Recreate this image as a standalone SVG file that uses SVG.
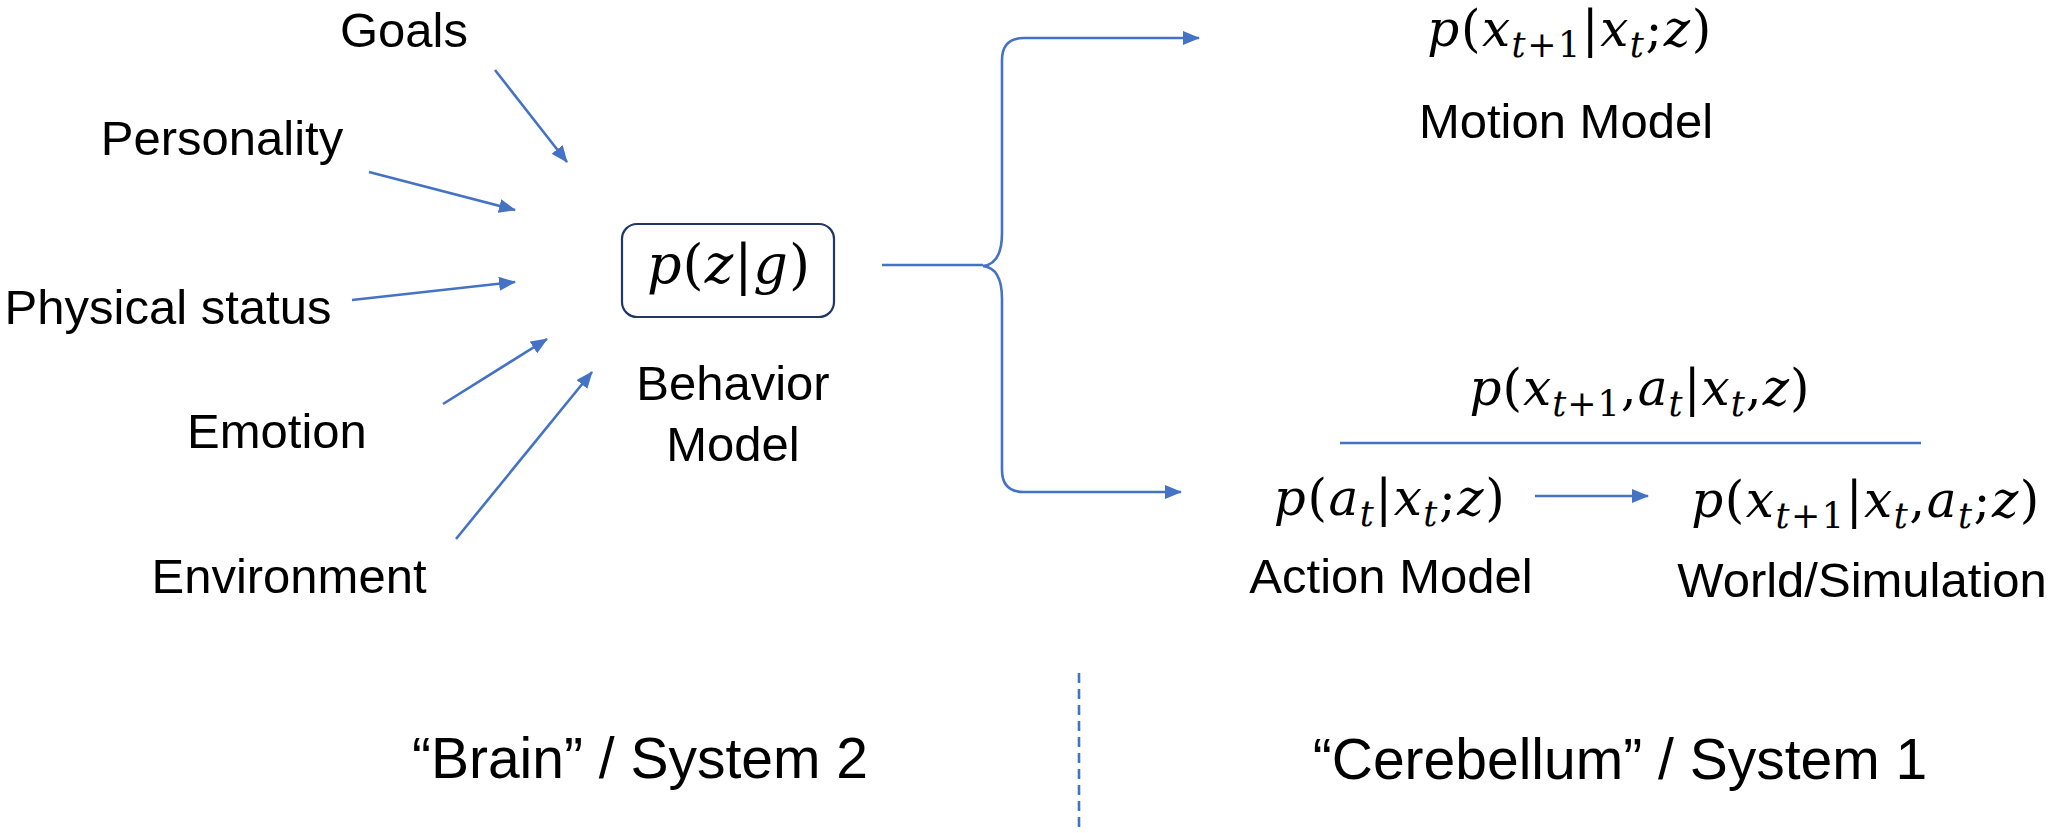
<svg xmlns="http://www.w3.org/2000/svg" width="2070" height="833" viewBox="0 0 2070 833">
  <style>
    .lbl { font-family: "Liberation Sans", Arial, sans-serif; font-size: 49px; fill: #000; text-anchor: middle; }
    .big { font-family: "Liberation Sans", Arial, sans-serif; font-size: 57px; fill: #000; text-anchor: middle; }
    .m { font-family: "DejaVu Serif", "Liberation Serif", serif; font-style: italic; font-size: 50px; letter-spacing: 1.5px; fill: #000; text-anchor: middle; }
    .u { font-style: normal; }
    .s { font-size: 35px; }
    .wire { fill: none; stroke: #4472C4; stroke-width: 2.6; }
  </style>
  <defs>
    <marker id="head" markerUnits="userSpaceOnUse" markerWidth="18" markerHeight="14" refX="16" refY="7" orient="auto">
      <path d="M0,0 L17,7 L0,14 Z" fill="#4472C4"/>
    </marker>
  </defs>

  <rect width="2070" height="833" fill="#fff"/>

  <!-- input factors -->
  <g id="goals"><text class="lbl" x="404" y="47">Goals</text></g>
  <g id="personality"><text class="lbl" x="222" y="155">Personality</text></g>
  <g id="physical-status"><text class="lbl" x="168" y="324">Physical status</text></g>
  <g id="emotion"><text class="lbl" x="277" y="448">Emotion</text></g>
  <g id="environment"><text class="lbl" x="289" y="593">Environment</text></g>

  <!-- behavior model -->
  <g id="behavior-model">
    <rect x="622" y="224" width="212" height="93" rx="15" fill="#fff" stroke="#1F3864" stroke-width="2.2"/>
    <text class="m" x="729" y="283" style="font-size:54px;letter-spacing:1px">p<tspan class="u">(</tspan>z<tspan class="u">|</tspan>g<tspan class="u">)</tspan></text>
    <text class="lbl" x="733" y="400">Behavior</text>
    <text class="lbl" x="733" y="461">Model</text>
  </g>

  <!-- motion model -->
  <g id="motion-model">
    <text class="m" x="1570" y="46">p<tspan class="u">(</tspan>x<tspan class="s" dy="11">t</tspan><tspan class="s u">+1</tspan><tspan class="u" dy="-11">|</tspan>x<tspan class="s" dy="11">t</tspan><tspan class="u" dy="-11">;</tspan>z<tspan class="u">)</tspan></text>
    <text class="lbl" x="1566" y="138">Motion Model</text>
  </g>

  <!-- joint distribution over the factored pair -->
  <g id="joint">
    <text class="m" x="1640" y="405" style="letter-spacing:1px">p<tspan class="u">(</tspan>x<tspan class="s" dy="11">t</tspan><tspan class="s u">+1</tspan><tspan class="u" dy="-11">,</tspan>a<tspan class="s" dy="11">t</tspan><tspan class="u" dy="-11">|</tspan>x<tspan class="s" dy="11">t</tspan><tspan class="u" dy="-11">,</tspan>z<tspan class="u">)</tspan></text>
    <line x1="1340" y1="443" x2="1921" y2="443" stroke="#4472C4" stroke-width="2.6"/>
  </g>

  <!-- action model -->
  <g id="action-model">
    <text class="m" x="1390" y="515">p<tspan class="u">(</tspan>a<tspan class="s" dy="11">t</tspan><tspan class="u" dy="-11">|</tspan>x<tspan class="s" dy="11">t</tspan><tspan class="u" dy="-11">;</tspan>z<tspan class="u">)</tspan></text>
    <text class="lbl" x="1391" y="593">Action Model</text>
  </g>

  <!-- world / simulation -->
  <g id="world-simulation">
    <text class="m" x="1866" y="517">p<tspan class="u">(</tspan>x<tspan class="s" dy="11">t</tspan><tspan class="s u">+1</tspan><tspan class="u" dy="-11">|</tspan>x<tspan class="s" dy="11">t</tspan><tspan class="u" dy="-11">,</tspan>a<tspan class="s" dy="11">t</tspan><tspan class="u" dy="-11">;</tspan>z<tspan class="u">)</tspan></text>
    <text class="lbl" x="1862" y="597">World/Simulation</text>
  </g>

  <!-- system captions -->
  <g id="system-2"><text class="big" x="640" y="778">“Brain” / System 2</text></g>
  <g id="system-1"><text class="big" x="1620" y="779">“Cerebellum” / System 1</text></g>

  <!-- connectors -->
  <g id="connectors">
    <line class="wire" x1="495" y1="70" x2="567" y2="162" marker-end="url(#head)"/>
    <line class="wire" x1="369" y1="172" x2="515" y2="210" marker-end="url(#head)"/>
    <line class="wire" x1="352" y1="300" x2="515" y2="282" marker-end="url(#head)"/>
    <line class="wire" x1="443" y1="404" x2="547" y2="339" marker-end="url(#head)"/>
    <line class="wire" x1="456" y1="539" x2="592" y2="372" marker-end="url(#head)"/>

    <path class="wire" d="M882,265 H983"/>
    <path class="wire" d="M983,266 Q1002,264 1002,233 V60 Q1002,38 1024,38 H1199" marker-end="url(#head)"/>
    <path class="wire" d="M983,266 Q1002,268 1002,299 V470 Q1002,492 1024,492 H1181" marker-end="url(#head)"/>

    <line class="wire" x1="1535" y1="496" x2="1648" y2="496" marker-end="url(#head)"/>

    <line x1="1079" y1="673" x2="1079" y2="833" stroke="#4472C4" stroke-width="2.6" stroke-dasharray="10 6"/>
  </g>
</svg>
